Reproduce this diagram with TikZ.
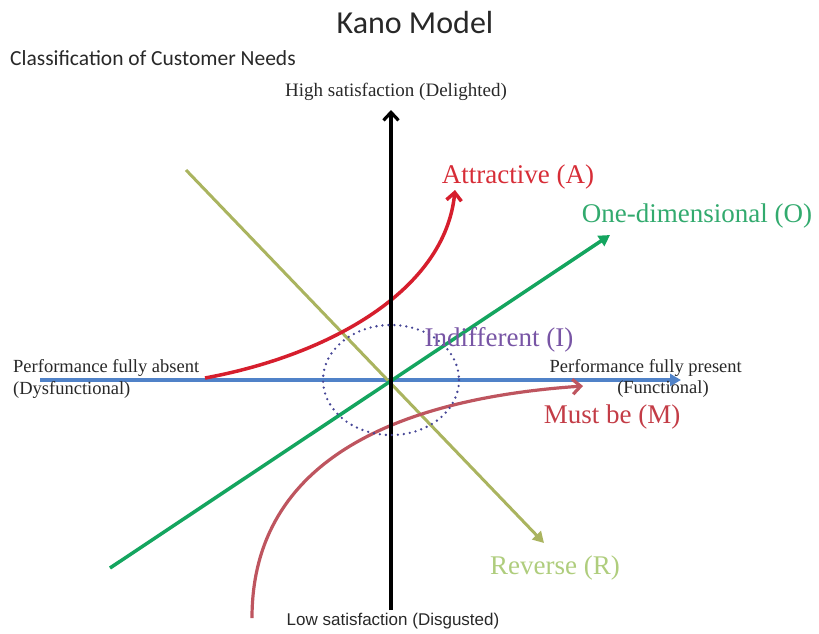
\documentclass[tikz,border=0pt]{standalone}
\usepackage{fontspec}
\setmainfont{Liberation Serif}
\newfontfamily\headfont{Carlito}
\newfontfamily\axisfont{Liberation Sans}
\usetikzlibrary{arrows.meta}

\definecolor{kanored}{RGB}{214,30,45}
\definecolor{kanogreen}{RGB}{20,165,95}
\definecolor{kanoolive}{RGB}{170,180,95}
\definecolor{kanoblue}{RGB}{80,130,200}
\definecolor{kanorose}{RGB}{190,85,95}
\definecolor{kanonavy}{RGB}{70,70,150}
\definecolor{labelred}{RGB}{215,45,55}
\definecolor{labelgreen}{RGB}{50,170,110}
\definecolor{labelpurple}{RGB}{120,85,165}
\definecolor{labelrose}{RGB}{195,60,70}
\definecolor{labelolive}{RGB}{175,205,125}
\definecolor{inkgray}{RGB}{40,40,40}

\tikzset{
  curvelabel/.style={font=\fontsize{27}{30}\selectfont, inner sep=0pt},
  axislabel/.style={font=\fontsize{18.5}{20}\selectfont, text=inkgray, inner sep=0pt},
  barb/.style={-{Straight Barb[length=8pt,width=15pt]}},
  solidtip/.style={-{Triangle[length=11pt,width=12pt]}},
}

\begin{document}
\begin{tikzpicture}[x=1pt,y=-1pt]
\useasboundingbox (0,0) rectangle (819,633);

% headings
\node[font=\headfont\fontsize{32}{36}\selectfont, text=inkgray, inner sep=0pt] (title) at (415,23) {Kano Model};
\node[font=\headfont\fontsize{21.5}{24}\selectfont, text=inkgray, inner sep=0pt, anchor=west] (subtitle) at (10,58) {Classification of Customer Needs};

% end points of the axes and of the category lines
\coordinate (origin) at (391,380);
\coordinate (ytop) at (391,110);
\coordinate (ybot) at (391,610);
\coordinate (xleft) at (40,380);
\coordinate (xright) at (681,380);
\coordinate (rstart) at (186,170);
\coordinate (rend) at (544,543);
\coordinate (ostart) at (110,568);
\coordinate (oend) at (610,235);
\coordinate (astart) at (205,378);
\coordinate (aend) at (455,190);
\coordinate (mstart) at (252,618);
\coordinate (mend) at (583,386);

% horizontal axis
\draw[kanoblue, line width=3.2pt, solidtip] (xleft) -- (xright);

% reverse
\draw[kanoolive, line width=3pt, solidtip] (rstart) -- (rend);

% one-dimensional
\draw[kanogreen, line width=3.5pt, solidtip] (ostart) -- (oend);

% attractive
\draw[kanored, line width=3.5pt, barb]
  (astart) .. controls (330,355) and (445,290) .. (aend);

% must-be
\draw[kanorose, line width=3.2pt, barb]
  (mstart) .. controls (252,470) and (380,400) .. (mend);

% vertical axis
\draw[black, line width=3.2pt, barb] (ybot) -- (ytop);

% indifferent zone
\draw[kanonavy, line width=2.6pt, line cap=round, dash pattern=on 0pt off 6pt]
  (origin) ellipse [x radius=68, y radius=55];

% axis labels
\node[axislabel, font=\fontsize{19}{20}\selectfont] (high) at (396,92) {High satisfaction (Delighted)};
\node[font=\axisfont\fontsize{17}{20}\selectfont, text=inkgray, inner sep=0pt] (low) at (393,621) {Low satisfaction (Disgusted)};
\node[axislabel, anchor=west] (absent) at (13,368) {Performance fully  absent};
\node[axislabel, anchor=west] (dys) at (13,390) {(Dysfunctional)};
\node[axislabel, anchor=east] (present) at (742,368) {Performance fully present};
\node[axislabel] (func) at (663,389) {(Functional)};

% category labels
\node[curvelabel, text=labelred] (attr) at (518,177) {Attractive (A)};
\node[curvelabel, text=labelgreen] (onedim) at (697,216) {One-dimensional (O)};
\node[curvelabel, text=labelpurple] (indiff) at (499,340) {Indifferent (I)};
\node[curvelabel, text=labelrose] (must) at (612,417) {Must be (M)};
\node[curvelabel, text=labelolive] (rev) at (555,568) {Reverse (R)};
\end{tikzpicture}
\end{document}
